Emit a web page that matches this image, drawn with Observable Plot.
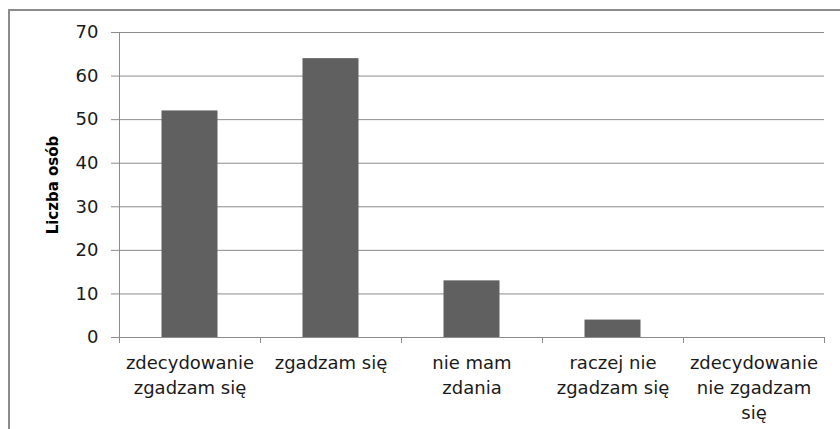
<!DOCTYPE html>
<html>
<head>
<meta charset="utf-8">
<script src="https://cdn.jsdelivr.net/npm/d3@7"></script>
<script src="https://cdn.jsdelivr.net/npm/@observablehq/plot@0.6"></script>
<style>
  html, body { margin: 0; padding: 0; background: #fff; overflow: hidden; width: 840px; height: 429px; }
  #frame { position: absolute; left: 8px; top: 9px; width: 900px; height: 500px;
           border-left: 2px solid #8c8c8c; border-top: 2px solid #8c8c8c; }
  #chart { position: absolute; left: 0; top: 0; }
</style>
</head>
<body>
<div id="frame"></div>
<div id="chart"></div>
<script>
const categories = [
  "zdecydowanie\nzgadzam się",
  "zgadzam się",
  "nie mam\nzdania",
  "raczej nie\nzgadzam się",
  "zdecydowanie\nnie zgadzam\nsię"
];
const values = [52, 64, 13, 4, 0];
const yTicks = [0, 10, 20, 30, 40, 50, 60, 70];
const yLabel = "Liczba osób";

const data = categories.map((c, i) => ({ i, label: c, value: values[i] }));
const boundaries = d3.range(categories.length + 1);

const gray = "#8c8c8c";

const chart = Plot.plot({
  width: 840,
  height: 429,
  marginLeft: 119,
  marginRight: 16,
  marginTop: 32,
  marginBottom: 92,
  x: { type: "linear", domain: [0, categories.length], axis: null },
  y: { type: "linear", domain: [0, 70], axis: null },
  style: { fontFamily: "DejaVu Sans", fontSize: "18px", color: "#1a1a1a", background: "transparent" },
  marks: [
    Plot.gridY(yTicks, { stroke: gray, strokeOpacity: 1 }),
    Plot.axisY(yTicks, { tickSize: 8, tickPadding: 13, stroke: gray, strokeOpacity: 1, label: null, fontSize: 18 }),
    Plot.ruleX([0], { stroke: gray }),
    Plot.ruleY([0], { stroke: gray }),
    Plot.rectY(data, {
      x1: "i", x2: d => d.i + 1, y1: 0, y2: "value",
      insetLeft: 42.5, insetRight: 42.5,
      fill: "#606060"
    }),
    Plot.axisX(boundaries, { tickSize: 6, stroke: gray, strokeOpacity: 1, tickFormat: () => "", label: null }),
    Plot.text(data, {
      x: d => d.i + 0.5, y: d => 0, text: "label",
      lineAnchor: "top", dy: 14, lineHeight: 1.39, fontSize: 18, fill: "#1a1a1a"
    }),
    Plot.text([yLabel], {
      frameAnchor: "left", textAnchor: "middle", dx: -66, rotate: -90,
      fontWeight: "bold", fontSize: 15, fill: "#000"
    })
  ]
});
document.getElementById("chart").appendChild(chart);
</script>
</body>
</html>
